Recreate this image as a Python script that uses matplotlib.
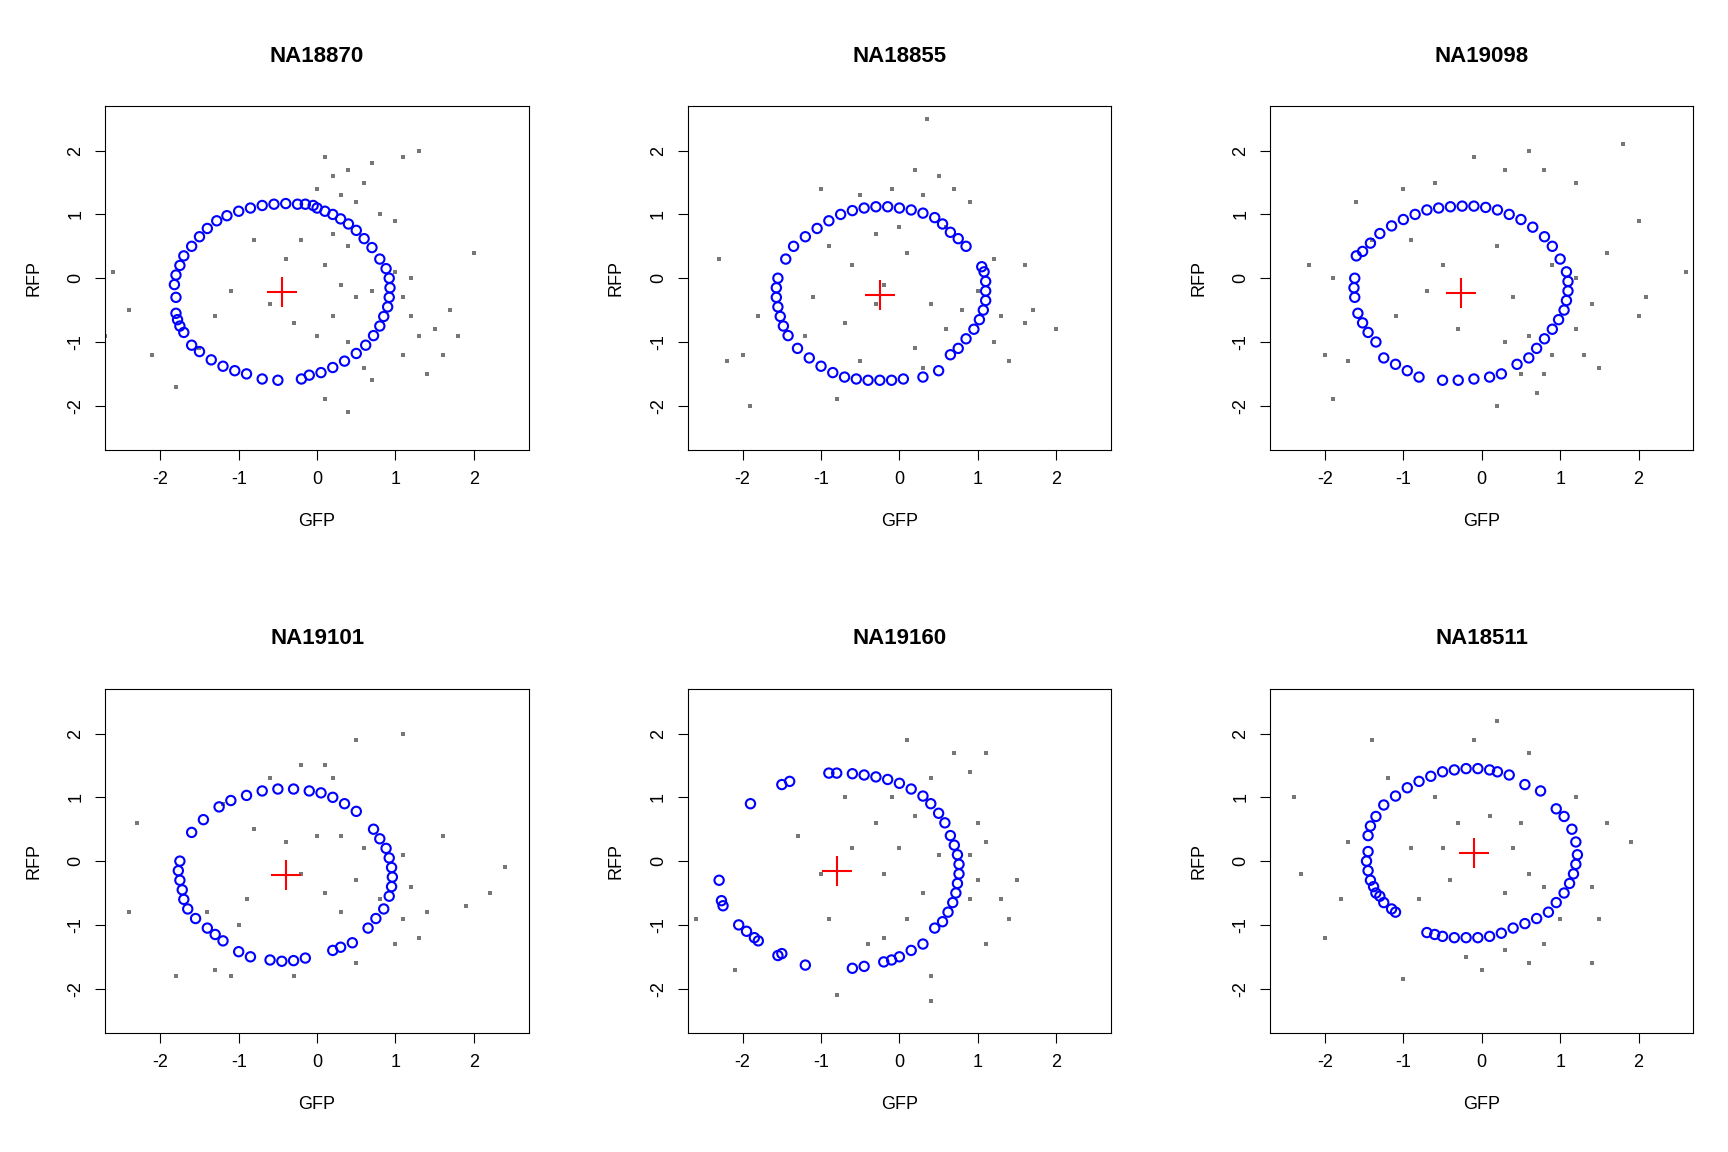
import matplotlib
matplotlib.use("Agg")
import matplotlib.pyplot as plt

titles = ["NA18870", "NA18855", "NA19098", "NA19101", "NA19160", "NA18511"]
centers = [(-0.45, -0.22), (-0.25, -0.27), (-0.27, -0.23), (-0.4, -0.22), (-0.8, -0.15), (-0.1, 0.12)]

blue1 = [(-1.8,-0.3),(-1.82,-0.1),(-1.8,0.05),(-1.75,0.2),(-1.7,0.35),(-1.6,0.5),(-1.5,0.65),(-1.4,0.78),(-1.28,0.9),(-1.15,0.98),(-1.0,1.05),(-0.85,1.1),(-0.7,1.14),(-0.55,1.16),(-0.4,1.17),(-0.25,1.16),(-0.15,1.16),(-0.05,1.14),(0.0,1.1),(0.1,1.05),(0.2,1.0),(0.3,0.93),(0.4,0.85),(0.5,0.75),(0.6,0.62),(0.7,0.48),(0.8,0.3),(0.88,0.15),(0.92,0.0),(0.93,-0.15),(0.92,-0.3),(0.9,-0.45),(0.85,-0.6),(0.8,-0.75),(0.72,-0.9),(0.62,-1.05),(0.5,-1.18),(0.35,-1.3),(0.2,-1.4),(0.05,-1.48),(-0.1,-1.52),(-0.2,-1.58),(-0.5,-1.6),(-0.7,-1.58),(-0.9,-1.5),(-1.05,-1.45),(-1.2,-1.38),(-1.35,-1.28),(-1.5,-1.15),(-1.6,-1.05),(-1.75,-0.75),(-1.7,-0.85),(-1.8,-0.55),(-1.78,-0.65)]
gray1 = [(0.1,1.9),(0.2,1.6),(0.4,1.7),(0.6,1.5),(0.7,1.8),(1.1,1.9),(1.3,2.0),(0.0,1.4),(0.3,1.3),(0.5,1.2),(0.2,0.7),(0.4,0.5),(0.1,0.2),(0.3,-0.1),(0.5,-0.3),(0.2,-0.6),(0.0,-0.9),(0.4,-1.0),(1.1,-0.3),(1.2,-0.6),(1.3,-0.9),(1.1,-1.2),(1.5,-0.8),(1.7,-0.5),(1.8,-0.9),(2.0,0.4),(1.0,0.1),(1.2,0.0),(-0.8,0.6),(-0.6,-0.4),(-1.1,-0.2),(-1.3,-0.6),(-2.6,0.1),(-2.7,-0.9),(-2.1,-1.2),(-1.8,-1.7),(-1.5,-1.1),(0.4,-2.1),(0.1,-1.9),(0.7,-1.6),(1.4,-1.5),(-0.4,0.3),(-0.3,-0.7),(0.6,-1.4),(0.8,1.0),(1.0,0.9),(-0.2,0.6),(0.7,-0.2),(1.6,-1.2),(-2.4,-0.5)]

blue2 = [(-1.55,0.0),(-1.57,-0.15),(-1.57,-0.3),(-1.55,-0.45),(-1.52,-0.6),(-1.48,-0.75),(-1.42,-0.9),(-1.3,-1.1),(-1.15,-1.25),(-1.0,-1.38),(-0.85,-1.48),(-0.7,-1.55),(-0.55,-1.58),(-0.4,-1.6),(-0.25,-1.6),(-0.1,-1.6),(0.05,-1.58),(0.3,-1.55),(0.5,-1.45),(0.65,-1.2),(0.75,-1.1),(0.85,-0.95),(0.95,-0.8),(1.02,-0.65),(1.07,-0.5),(1.1,-0.35),(1.1,-0.2),(1.1,-0.05),(1.08,0.1),(1.05,0.18),(0.85,0.5),(0.75,0.62),(0.65,0.72),(0.55,0.85),(0.45,0.95),(0.3,1.02),(0.15,1.07),(0.0,1.1),(-0.15,1.12),(-0.3,1.12),(-0.45,1.1),(-0.6,1.06),(-0.75,1.0),(-0.9,0.9),(-1.05,0.78),(-1.2,0.65),(-1.35,0.5),(-1.45,0.3)]
gray2 = [(0.35,2.5),(0.2,1.7),(0.5,1.6),(0.7,1.4),(-0.1,1.4),(-1.0,1.4),(-0.5,1.3),(0.9,1.2),(0.3,1.3),(0.6,0.8),(-0.3,0.7),(0.1,0.4),(-0.6,0.2),(-0.2,-0.1),(0.4,-0.4),(0.6,-0.8),(0.2,-1.1),(-0.7,-0.7),(-1.1,-0.3),(-1.8,-0.6),(-2.0,-1.2),(-2.2,-1.3),(-2.3,0.3),(-1.9,-2.0),(-0.8,-1.9),(-0.5,-1.3),(0.3,-1.4),(1.2,-1.0),(1.3,-0.6),(1.4,-1.3),(1.6,-0.7),(1.7,-0.5),(2.0,-0.8),(1.2,0.3),(1.6,0.2),(1.0,-0.2),(0.8,-0.5),(-1.2,-0.9),(-0.3,-0.4),(0.0,0.8),(-0.9,0.5)]

blue3 = [(-1.62,0.0),(-1.63,-0.15),(-1.62,-0.3),(-1.58,-0.55),(-1.52,-0.7),(-1.45,-0.85),(-1.35,-1.0),(-1.25,-1.25),(-1.1,-1.35),(-0.95,-1.45),(-0.8,-1.55),(-0.5,-1.6),(-0.3,-1.6),(-0.1,-1.58),(0.1,-1.55),(0.25,-1.5),(0.45,-1.35),(0.6,-1.25),(0.7,-1.1),(0.8,-0.95),(0.9,-0.8),(0.98,-0.65),(1.05,-0.5),(1.08,-0.35),(1.1,-0.2),(1.1,-0.05),(1.08,0.1),(1.0,0.3),(0.9,0.5),(0.8,0.65),(0.65,0.8),(0.5,0.92),(0.35,1.0),(0.2,1.07),(0.05,1.11),(-0.1,1.13),(-0.25,1.13),(-0.4,1.12),(-0.55,1.1),(-0.7,1.07),(-0.85,1.0),(-1.0,0.92),(-1.15,0.82),(-1.3,0.7),(-1.42,0.55),(-1.52,0.42),(-1.6,0.35)]
gray3 = [(-0.1,1.9),(0.3,1.7),(0.6,2.0),(0.8,1.7),(1.8,2.1),(1.2,1.5),(-0.6,1.5),(-1.0,1.4),(-1.6,1.2),(-2.2,0.2),(-1.9,0.0),(-1.4,0.6),(-0.9,0.6),(-0.5,0.2),(-0.7,-0.2),(0.2,0.5),(0.4,-0.3),(0.6,-0.9),(0.3,-1.0),(0.5,-1.5),(0.7,-1.8),(0.9,-1.2),(1.2,-0.8),(1.3,-1.2),(1.4,-0.4),(1.5,-1.4),(1.6,0.4),(2.0,0.9),(2.0,-0.6),(2.6,0.1),(2.1,-0.3),(-2.0,-1.2),(-1.9,-1.9),(-1.7,-1.3),(0.2,-2.0),(0.8,-1.5),(-0.3,-0.8),(0.9,0.2),(1.2,0.0),(-1.1,-0.6)]

blue4 = [(-1.75,0.0),(-1.77,-0.15),(-1.75,-0.3),(-1.72,-0.45),(-1.7,-0.6),(-1.65,-0.75),(-1.55,-0.9),(-1.4,-1.05),(-1.3,-1.15),(-1.2,-1.25),(-1.0,-1.42),(-0.85,-1.5),(-0.6,-1.55),(-0.45,-1.57),(-0.3,-1.56),(-0.15,-1.52),(0.2,-1.4),(0.3,-1.35),(0.45,-1.28),(0.65,-1.05),(0.75,-0.9),(0.85,-0.75),(0.92,-0.55),(0.95,-0.4),(0.96,-0.25),(0.95,-0.1),(0.92,0.05),(0.88,0.2),(0.8,0.35),(0.72,0.5),(0.5,0.78),(0.35,0.9),(0.2,1.0),(0.05,1.07),(-0.1,1.1),(-0.3,1.13),(-0.5,1.13),(-0.7,1.1),(-0.9,1.03),(-1.1,0.95),(-1.25,0.85),(-1.45,0.65),(-1.6,0.45)]
gray4 = [(0.5,1.9),(1.1,2.0),(0.1,1.5),(0.2,1.3),(-0.2,1.5),(-0.6,1.3),(-1.2,0.9),(-0.8,0.5),(-0.4,0.3),(-0.2,-0.2),(0.1,-0.5),(0.3,-0.8),(0.5,-0.3),(0.6,0.2),(1.1,0.1),(1.2,-0.4),(1.1,-0.9),(1.3,-1.2),(1.4,-0.8),(1.6,0.4),(1.9,-0.7),(2.2,-0.5),(2.4,-0.1),(1.0,-1.3),(0.5,-1.6),(-0.3,-1.8),(-1.1,-1.8),(-1.3,-1.7),(-1.8,-1.8),(-2.4,-0.8),(-2.3,0.6),(-1.4,-0.8),(-0.9,-0.6),(0.0,0.4),(0.3,0.4),(0.8,-0.6),(-1.0,-1.0)]

blue5 = [(-0.9,1.38),(-0.8,1.38),(-0.6,1.37),(-0.45,1.35),(-0.3,1.32),(-0.15,1.28),(0.0,1.22),(0.15,1.13),(0.3,1.02),(0.4,0.9),(0.5,0.75),(0.58,0.6),(0.65,0.4),(0.7,0.25),(0.74,0.1),(0.76,-0.05),(0.76,-0.2),(0.74,-0.35),(0.72,-0.5),(0.68,-0.65),(0.62,-0.8),(0.55,-0.95),(0.45,-1.05),(0.3,-1.3),(0.15,-1.4),(0.0,-1.5),(-0.1,-1.55),(-0.2,-1.58),(-0.45,-1.65),(-0.6,-1.68),(-1.2,-1.63),(-1.55,-1.48),(-1.5,-1.45),(-1.8,-1.25),(-1.85,-1.2),(-2.05,-1.0),(-1.95,-1.1),(-2.25,-0.7),(-2.27,-0.62),(-2.3,-0.3),(-1.9,0.9),(-1.5,1.2),(-1.4,1.25)]
gray5 = [(0.1,1.9),(0.7,1.7),(1.1,1.7),(0.9,1.4),(0.4,1.3),(-0.1,1.0),(-0.3,0.6),(0.2,0.7),(0.0,0.2),(-0.2,-0.2),(0.3,-0.5),(0.1,-0.9),(-0.4,-1.3),(-0.2,-1.2),(0.4,-1.8),(0.4,-2.2),(-0.8,-2.1),(0.9,-0.6),(1.0,-0.3),(1.1,0.3),(1.0,0.6),(1.3,-0.6),(1.4,-0.9),(1.5,-0.3),(1.1,-1.3),(-2.6,-0.9),(-2.1,-1.7),(-1.0,-0.2),(-0.9,-0.9),(-1.3,0.4),(-0.6,0.2),(0.5,0.1),(0.9,0.1),(-0.7,1.0)]

blue6 = [(-1.45,0.15),(-1.47,0.0),(-1.45,-0.15),(-1.42,-0.3),(-1.38,-0.4),(-1.35,-0.5),(-1.3,-0.55),(-1.25,-0.65),(-1.15,-0.75),(-1.1,-0.8),(-0.7,-1.12),(-0.6,-1.15),(-0.5,-1.18),(-0.35,-1.2),(-0.2,-1.2),(-0.05,-1.2),(0.1,-1.18),(0.25,-1.13),(0.4,-1.05),(0.55,-0.98),(0.7,-0.9),(0.85,-0.8),(0.95,-0.65),(1.05,-0.5),(1.12,-0.35),(1.17,-0.2),(1.2,-0.05),(1.22,0.1),(1.2,0.3),(1.15,0.5),(1.05,0.7),(0.95,0.82),(0.75,1.1),(0.55,1.2),(0.35,1.35),(0.2,1.4),(0.1,1.43),(-0.05,1.45),(-0.2,1.45),(-0.35,1.43),(-0.5,1.4),(-0.65,1.33),(-0.8,1.25),(-0.95,1.15),(-1.1,1.02),(-1.25,0.88),(-1.35,0.7),(-1.42,0.55),(-1.45,0.4)]
gray6 = [(0.2,2.2),(-0.1,1.9),(0.6,1.7),(-1.4,1.9),(-1.2,1.3),(-0.6,1.0),(-0.3,0.6),(0.1,0.7),(0.4,0.2),(0.6,-0.2),(0.3,-0.5),(-0.4,-0.3),(-0.9,0.2),(-0.8,-0.6),(0.8,-0.4),(1.0,-0.9),(0.8,-1.3),(0.6,-1.6),(0.3,-1.4),(1.4,-1.6),(1.5,-0.9),(1.4,-0.4),(1.9,0.3),(1.6,0.6),(1.2,1.0),(-1.8,-0.6),(-1.7,0.3),(-2.4,1.0),(-2.3,-0.2),(-2.0,-1.2),(-1.0,-1.85),(0.0,-1.7),(-0.2,-1.5),(0.5,0.6),(-0.5,0.2)]

blues = [blue1, blue2, blue3, blue4, blue5, blue6]
grays = [gray1, gray2, gray3, gray4, gray5, gray6]

plt.rcParams['font.family'] = ['Liberation Sans', 'DejaVu Sans']
plt.rcParams['axes.unicode_minus'] = False
fig = plt.figure(figsize=(17.28, 11.52), dpi=100)
lefts = [0.061, 0.398, 0.735]
bottoms = [0.609, 0.103]
w, h = 0.245, 0.299
for i in range(6):
    r, c = divmod(i, 3)
    ax = fig.add_axes([lefts[c], bottoms[r], w, h])
    gx = [p[0] for p in grays[i]]; gy = [p[1] for p in grays[i]]
    ax.scatter(gx, gy, s=7, marker='s', color='#777777', linewidths=0)
    bx = [p[0] for p in blues[i]]; by = [p[1] for p in blues[i]]
    ax.scatter(bx, by, s=45, facecolors='none', edgecolors='blue', linewidths=1.5)
    ax.plot([centers[i][0]], [centers[i][1]], marker='+', color='red', markersize=22, mew=1.5)
    ax.set_xlim(-2.7, 2.7); ax.set_ylim(-2.7, 2.7)
    ax.set_xticks([-2, -1, 0, 1, 2]); ax.set_yticks([-2, -1, 0, 1, 2])
    ax.tick_params(direction='out', length=7, labelsize=13, pad=8)
    for lab in ax.get_yticklabels():
        lab.set_rotation(90); lab.set_va('center')
    ax.set_xlabel('GFP', fontsize=13, labelpad=18)
    ax.set_ylabel('RFP', fontsize=13, labelpad=18)
    ax.set_title(titles[i], fontsize=16, fontweight='bold', pad=32)
fig.savefig('out.png', dpi=100)
